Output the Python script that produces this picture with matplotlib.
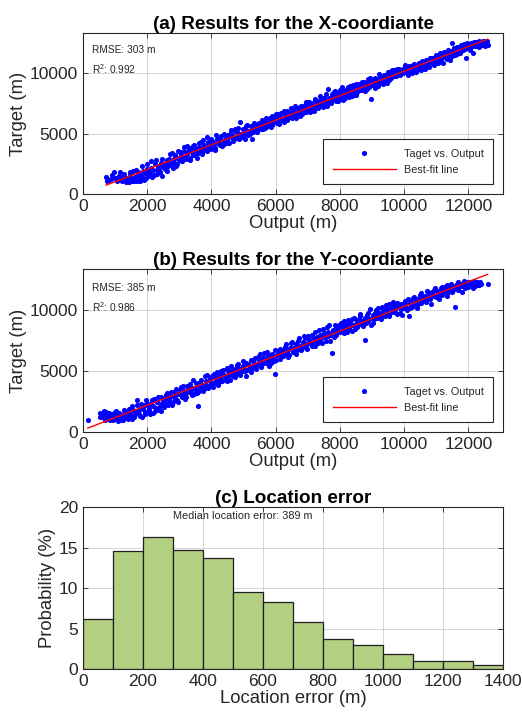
import matplotlib
matplotlib.use("Agg")
import matplotlib.pyplot as plt
import numpy as np

plt.rcParams['font.family'] = ['Liberation Sans', 'DejaVu Sans']
plt.rcParams['mathtext.fontset'] = 'custom'
plt.rcParams['mathtext.rm'] = 'Liberation Sans'

# X-coordinate: (network output, target) pairs in metres
x_pts = [
    (720, 1400), (810, 1150), (880, 1250), (950, 1850), (1010, 1300), (1060, 1100), (1120, 1500), (1180, 1200),
    (1230, 1050), (1290, 1700), (1340, 1350), (1380, 1150), (1420, 1000), (1470, 1600), (1510, 1250), (1550, 1900),
    (1590, 1100), (1630, 1450), (1680, 1050), (1720, 1800), (1760, 1300), (1800, 1600), (1850, 2300), (1890, 1200),
    (1930, 1750), (1980, 2100), (2020, 1500), (2060, 1850), (2110, 2700), (2150, 1400), (2190, 2000), (2240, 2450),
    (2290, 1650), (2330, 2200), (2380, 1950), (2420, 2600), (2470, 1500), (2510, 2350), (2560, 2050), (2610, 2800),
    (2650, 2300), (2700, 3300), (2740, 2600), (2790, 2150), (2840, 2900), (2880, 3200), (2930, 2500), (2980, 2850),
    (3020, 3500), (3070, 2700), (3110, 3100), (3160, 3900), (3200, 2900), (3250, 3300), (3300, 3650), (3340, 3000),
    (3390, 3450), (3430, 4000), (3480, 3200), (3530, 3700), (3570, 3400), (3620, 4200), (3660, 3800), (3710, 3300),
    (3750, 4500), (3800, 3900), (3850, 3550), (3890, 4300), (3940, 4000), (3980, 3700), (4030, 4400), (4080, 4150),
    (4120, 3850), (4170, 4600), (4210, 4300), (4260, 4050), (4300, 4800), (4350, 4400), (4400, 4150), (4440, 4650),
    (4490, 4500), (4530, 4200), (4580, 5000), (4620, 4700), (4670, 4400), (4720, 5400), (4760, 4750), (4810, 5100),
    (4850, 4550), (4900, 6000), (4950, 5000), (4990, 4700), (5040, 5300), (5080, 5600), (5130, 4900), (5170, 5250),
    (5220, 5650), (5270, 4600), (5310, 5400), (5360, 5800), (5400, 5200), (5450, 5550), (5490, 5900), (5540, 5350),
    (5590, 5700), (5630, 6050), (5680, 5500), (5720, 5850), (5770, 5600), (5810, 6300), (5860, 5950), (5900, 5700),
    (5950, 6200), (6000, 6600), (6040, 5900), (6090, 6350), (6130, 6100), (6180, 6700), (6220, 6250), (6270, 5950),
    (6320, 6600), (6360, 6900), (6410, 6400), (6450, 6750), (6500, 6300), (6540, 7000), (6590, 6650), (6640, 6300),
    (6680, 7100), (6730, 6800), (6770, 7250), (6820, 6600), (6860, 7000), (6910, 7400), (6960, 6800), (7000, 7200),
    (7050, 7600), (7090, 7000), (7140, 7350), (7180, 6900), (7230, 7700), (7280, 7400), (7320, 7100), (7370, 7800),
    (7410, 7500), (7460, 7200), (7500, 8000), (7550, 7650), (7600, 7300), (7640, 8700), (7690, 7900), (7730, 7550),
    (7780, 8100), (7820, 8450), (7870, 7700), (7920, 8200), (7960, 7900), (8010, 8600), (8050, 8100), (8100, 7800),
    (8140, 8500), (8190, 8300), (8240, 8900), (8280, 8050), (8330, 8600), (8370, 8350), (8420, 9000), (8460, 8500),
    (8510, 8200), (8560, 8800), (8600, 9100), (8650, 8650), (8690, 9300), (8740, 8900), (8790, 8550), (8830, 9200),
    (8880, 9500), (8920, 8900), (8970, 7900), (9010, 9300), (9060, 9000), (9100, 9600), (9150, 9250), (9190, 8950),
    (9240, 9700), (9290, 9400), (9330, 9100), (9380, 9900), (9420, 9500), (9470, 9200), (9510, 9800), (9560, 10100),
    (9600, 9600), (9650, 9950), (9700, 10300), (9740, 9800), (9790, 10150), (9830, 10400), (9880, 9900), (9920, 10250),
    (9970, 10000), (10020, 10500), (10060, 10200), (10110, 9900), (10150, 10600), (10200, 10300), (10240, 10050),
    (10290, 10700), (10340, 10400), (10380, 10150), (10430, 10800), (10470, 10500), (10520, 10300), (10560, 11000),
    (10610, 10700), (10660, 10400), (10700, 11100), (10750, 10800), (10790, 10600), (10840, 11300), (10880, 10950),
    (10930, 10700), (10980, 11400), (11020, 11100), (11070, 10850), (11110, 11500), (11160, 11200), (11200, 10900),
    (11250, 11600), (11300, 11300), (11340, 11700), (11390, 11400), (11430, 11150), (11480, 12500), (11520, 11800),
    (11570, 11500), (11620, 11900), (11660, 11600), (11710, 12100), (11750, 11800), (11800, 12200), (11840, 11900),
    (11890, 12300), (11940, 11300), (11980, 12100), (12030, 12450), (12070, 12200), (12120, 12550), (12160, 11700),
    (12210, 12300), (12250, 12600), (12300, 12400), (12340, 12200), (12390, 12600), (12430, 12450), (12480, 12650),
    (12520, 12300), (12560, 12500),
    (760, 1050), (900, 1550), (1050, 1350), (1150, 1800), (1250, 1400), (1330, 1000), (1400, 1300), (1450, 1850),
    (1530, 1050), (1600, 1350), (1650, 2000), (1700, 1550), (1780, 1100), (1830, 1450), (1870, 1900), (1950, 1350),
    (2000, 2450), (2080, 1700), (2130, 2150), (2200, 1600), (2260, 2800), (2310, 1950), (2360, 2350), (2400, 1800),
    (2450, 2900), (2500, 2200), (2580, 2550), (2630, 1900), (2680, 2900), (2720, 2400), (2770, 3400), (2820, 2600),
    (2860, 3050), (2910, 2300), (2960, 3600), (3000, 2950), (3050, 3250), (3090, 2700), (3140, 3600), (3180, 3050),
    (3230, 4000), (3270, 3500), (3320, 2850), (3360, 3800), (3410, 3250), (3460, 4100), (3500, 3550), (3550, 3000),
    (3600, 3900), (3640, 3550), (3690, 4350), (3730, 3600), (3780, 4100), (3820, 3750), (3870, 4700), (3910, 4150),
    (3960, 3800), (4000, 4600), (4050, 4300), (4100, 3650), (4150, 4900), (4190, 4450), (4240, 4150), (4280, 4650),
    (4330, 4000), (4380, 5000), (4420, 4500), (4470, 4350), (4510, 4900), (4560, 4250), (4600, 5300), (4650, 4900),
    (4700, 4550), (4740, 5200), (4790, 4650), (4830, 5500), (4880, 5000), (4920, 4800), (4970, 5400), (5010, 5000),
    (5060, 4600), (5110, 5700), (5150, 5200), (5200, 5000), (5250, 5500), (5290, 5150), (5340, 5900), (5380, 5400),
    (5430, 5100), (5470, 5750), (5520, 5500), (5560, 6100), (5610, 5350), (5650, 5900), (5700, 6300), (5750, 5650),
    (5790, 6000), (5840, 5550), (5880, 6500), (5930, 5900), (5970, 6300), (6020, 6100), (6060, 6600), (6110, 5800),
    (6150, 6400), (6200, 6100), (6250, 6900), (6290, 6450), (6340, 6150), (6380, 6700), (6430, 6550), (6480, 7100),
    (6520, 6500), (6570, 6850), (6610, 7300), (6660, 6600), (6700, 6900), (6750, 6500), (6800, 7300), (6840, 6900),
    (6890, 7150), (6930, 7600), (6980, 7000), (7020, 7400), (7070, 6800), (7110, 7550), (7160, 7250), (7210, 7900),
    (7250, 7200), (7300, 7600), (7350, 7300), (7390, 8100), (7430, 7650), (7480, 7400), (7520, 7850), (7570, 8300),
    (7620, 7600), (7660, 8000), (7710, 7700), (7750, 8300), (7800, 7900), (7850, 8500), (7890, 8100), (7940, 7750),
    (7980, 8400), (8030, 8300), (8070, 8850), (8120, 8200), (8160, 8000), (8210, 8700), (8260, 8400), (8300, 8950),
    (8350, 8500), (8390, 8100), (8440, 8750), (8490, 9100), (8530, 8450), (8580, 8900), (8620, 8600), (8670, 9050),
    (8720, 8700), (8760, 9300), (8810, 8900), (8850, 8700), (8900, 9250), (8950, 9600), (8990, 9050), (9040, 9400),
    (9080, 8800), (9130, 9550), (9170, 9300), (9220, 9950), (9260, 9200), (9310, 9650), (9360, 9300), (9400, 9850),
    (9450, 9650), (9490, 10150), (9540, 9450), (9580, 9900), (9630, 10250), (9680, 9750), (9720, 10000), (9770, 10400),
    (9810, 9950), (9860, 10300), (9900, 10050), (9950, 10400), (10000, 10150), (10040, 10700), (10090, 10300),
    (10130, 10050), (10180, 10600), (10220, 10350), (10270, 10150), (10310, 10800), (10360, 10550), (10400, 10250),
    (10450, 10900), (10500, 10650), (10540, 10450), (10590, 10900), (10630, 10600), (10680, 11150), (10720, 10850),
    (10770, 10550), (10810, 11250), (10860, 10950), (10900, 11300), (10950, 11050), (11000, 11550), (11040, 11200),
    (11090, 10950), (11130, 11650), (11180, 11350), (11230, 11800), (11270, 11450), (11320, 11200), (11360, 11900),
    (11410, 11600), (11450, 11850), (11500, 11450), (11540, 12100), (11590, 11700), (11640, 12200), (11680, 11950),
    (11730, 11700), (11770, 12350), (11820, 12000), (11860, 12400), (11910, 12050), (11960, 12500), (12000, 12250),
    (12050, 11900), (12090, 12550), (12140, 12350), (12180, 12600), (12230, 12450), (12280, 12250), (12320, 12650),
    (12360, 12550), (12410, 12350), (12450, 12700), (12500, 12550), (12540, 12450), (12580, 12650), (12600, 12350),
]

# Y-coordinate: (network output, target) pairs in metres
y_pts = [
    (150, 1000), (520, 1600), (580, 1200), (640, 1700), (700, 1400), (760, 1100), (820, 1550), (880, 1250),
    (930, 1000), (990, 1650), (1040, 1300), (1090, 900), (1140, 1450), (1190, 1150), (1240, 950), (1290, 1800),
    (1340, 1250), (1390, 1050), (1440, 1600), (1490, 1350), (1540, 2100), (1590, 1200), (1640, 1700), (1690, 2600),
    (1740, 1450), (1790, 1900), (1840, 1250), (1890, 2200), (1940, 1650), (1990, 2400), (2040, 1900), (2090, 1500),
    (2140, 2600), (2190, 2150), (2240, 1750), (2290, 2500), (2340, 2900), (2390, 2100), (2440, 1700), (2490, 2700),
    (2540, 2400), (2590, 3000), (2640, 2250), (2690, 2750), (2740, 3300), (2790, 2500), (2840, 2900), (2890, 3500),
    (2940, 2650), (2990, 3150), (3040, 3700), (3090, 2900), (3140, 3400), (3190, 2700), (3240, 3800), (3290, 3250),
    (3340, 3600), (3390, 3000), (3440, 4300), (3490, 3500), (3540, 3200), (3590, 2100), (3640, 4100), (3690, 3700),
    (3740, 3350), (3790, 4600), (3840, 3900), (3890, 3600), (3940, 4400), (3990, 4050), (4040, 3700), (4090, 4800),
    (4140, 4300), (4190, 3900), (4240, 4600), (4290, 5000), (4340, 4200), (4390, 4700), (4440, 4400), (4490, 5300),
    (4540, 4700), (4590, 4300), (4640, 5100), (4690, 4850), (4740, 4500), (4790, 5500), (4840, 5000), (4890, 4650),
    (4940, 5300), (4990, 5800), (5040, 5000), (5090, 4600), (5140, 5600), (5190, 5250), (5240, 4900), (5290, 5900),
    (5340, 5500), (5390, 5150), (5440, 6200), (5490, 5700), (5540, 5350), (5590, 6000), (5640, 6500), (5690, 5700),
    (5740, 6200), (5790, 5450), (5840, 6000), (5890, 6400), (5940, 5800), (5990, 4800), (6040, 6300), (6090, 6700),
    (6140, 6000), (6190, 6550), (6240, 6250), (6290, 7000), (6340, 6500), (6390, 6150), (6440, 6900), (6490, 7300),
    (6540, 6600), (6590, 7000), (6640, 6400), (6690, 7500), (6740, 7000), (6790, 6700), (6840, 7400), (6890, 7900),
    (6940, 7100), (6990, 6800), (7040, 7600), (7090, 7300), (7140, 8000), (7190, 7500), (7240, 7100), (7290, 7800),
    (7340, 8400), (7390, 7600), (7440, 7300), (7490, 8100), (7540, 7800), (7590, 8600), (7640, 7900), (7690, 7500),
    (7740, 6500), (7790, 8300), (7840, 8800), (7890, 8000), (7940, 8500), (7990, 8200), (8040, 9000), (8090, 8400),
    (8140, 8100), (8190, 8800), (8240, 9200), (8290, 8500), (8340, 8900), (8390, 8300), (8440, 9400), (8490, 8900),
    (8540, 8600), (8590, 9300), (8640, 9700), (8690, 8900), (8740, 9200), (8790, 7600), (8840, 9600), (8890, 9100),
    (8940, 10100), (8990, 9400), (9040, 9000), (9090, 9800), (9140, 9500), (9190, 10200), (9240, 9600), (9290, 9300),
    (9340, 10000), (9390, 9700), (9440, 10400), (9490, 9800), (9540, 9500), (9590, 10300), (9640, 10700), (9690, 9900),
    (9740, 10200), (9790, 9700), (9840, 10500), (9890, 10100), (9940, 9600), (9990, 10400), (10040, 10800),
    (10090, 10000), (10140, 9500), (10190, 10600), (10240, 10300), (10290, 11000), (10340, 10500), (10390, 10200),
    (10440, 10900), (10490, 11300), (10540, 10600), (10590, 10900), (10640, 11200), (10690, 10700), (10740, 11500),
    (10790, 11000), (10840, 10500), (10890, 11300), (10940, 11700), (10990, 11100), (11040, 11400), (11090, 10900),
    (11140, 11800), (11190, 11300), (11240, 11600), (11290, 12000), (11340, 11200), (11390, 11700), (11440, 12100),
    (11490, 11500), (11540, 11900), (11590, 10300), (11640, 12200), (11690, 11700), (11740, 12000), (11790, 11500),
    (11840, 12200), (11890, 11800), (11940, 12300), (11990, 11900), (12040, 12100), (12090, 12300), (12140, 11800),
    (12190, 12000), (12240, 12200), (12290, 12050), (12350, 12300), (12600, 12200),
    (540, 1200), (610, 1500), (670, 1000), (730, 1650), (790, 1300), (850, 1000), (900, 1450), (960, 1200),
    (1020, 1700), (1070, 1100), (1120, 1600), (1170, 1350), (1220, 1000), (1270, 1500), (1320, 1700), (1370, 1200),
    (1420, 1900), (1470, 1500), (1520, 1100), (1570, 1800), (1620, 1450), (1670, 2200), (1720, 1700), (1770, 1300),
    (1820, 2300), (1870, 1850), (1920, 1500), (1970, 2650), (2020, 2100), (2070, 1750), (2120, 2300), (2170, 1600),
    (2220, 2700), (2270, 2000), (2320, 2450), (2370, 1800), (2420, 2900), (2470, 2350), (2520, 2050), (2570, 2800),
    (2620, 3200), (2670, 2500), (2720, 2950), (2770, 2200), (2820, 3300), (2870, 2800), (2920, 3100), (2970, 2450),
    (3020, 3450), (3070, 3050), (3120, 3800), (3170, 3150), (3220, 2850), (3270, 3600), (3320, 3950), (3370, 3300),
    (3420, 3650), (3470, 3100), (3520, 4000), (3570, 3700), (3620, 3400), (3670, 4300), (3720, 3900), (3770, 3500),
    (3820, 4200), (3870, 4700), (3920, 3800), (3970, 4350), (4020, 4600), (4070, 4000), (4120, 4500), (4170, 4900),
    (4220, 4100), (4270, 4450), (4320, 4750), (4370, 5100), (4420, 4550), (4470, 4200), (4520, 5000), (4570, 4800),
    (4620, 5400), (4670, 4600), (4720, 5150), (4770, 4800), (4820, 5600), (4870, 5200), (4920, 4900), (4970, 5450),
    (5020, 5200), (5070, 5700), (5120, 5100), (5170, 5500), (5220, 5900), (5270, 5300), (5320, 5700), (5370, 6100),
    (5420, 5500), (5470, 5900), (5520, 6400), (5570, 5600), (5620, 6100), (5670, 5850), (5720, 6600), (5770, 5950),
    (5820, 6350), (5870, 5700), (5920, 6250), (5970, 6700), (6020, 5900), (6070, 6450), (6120, 6850), (6170, 6300),
    (6220, 6700), (6270, 6450), (6320, 7200), (6370, 6700), (6420, 6350), (6470, 6900), (6520, 7400), (6570, 6800),
    (6620, 7200), (6670, 6700), (6720, 7700), (6770, 7100), (6820, 6900), (6870, 7300), (6920, 7700), (6970, 7200),
    (7020, 7900), (7070, 7400), (7120, 7100), (7170, 7800), (7220, 8200), (7270, 7600), (7320, 7300), (7370, 8000),
    (7420, 7700), (7470, 8500), (7520, 7900), (7570, 7500), (7620, 8200), (7670, 8800), (7720, 8000), (7770, 8400),
    (7820, 7800), (7870, 8600), (7920, 8200), (7970, 8800), (8020, 8300), (8070, 8700), (8120, 9100), (8170, 8500),
    (8220, 8200), (8270, 9000), (8320, 8700), (8370, 9300), (8420, 8800), (8470, 8500), (8520, 9100), (8570, 8800),
    (8620, 9500), (8670, 9100), (8720, 8700), (8770, 9400), (8820, 9000), (8870, 9800), (8920, 9300), (8970, 8800),
    (9020, 9600), (9070, 9300), (9120, 10000), (9170, 9400), (9220, 9800), (9270, 9500), (9320, 10300), (9370, 9900),
    (9420, 9500), (9470, 10100), (9520, 10500), (9570, 9800), (9620, 10100), (9670, 10400), (9720, 9900),
    (9770, 10600), (9820, 10300), (9870, 9800), (9920, 10500), (9970, 10200), (10020, 10600), (10070, 10300),
    (10120, 10900), (10170, 10200), (10220, 10700), (10270, 10400), (10320, 11100), (10370, 10800), (10420, 10500),
    (10470, 11000), (10520, 11400), (10570, 10800), (10620, 11100), (10670, 10800), (10720, 11600), (10770, 11200),
    (10820, 10900), (10870, 11500), (10920, 11200), (10970, 11800), (11020, 11600), (11070, 11200), (11120, 11600),
    (11170, 11900), (11220, 11400), (11270, 11800), (11320, 12100), (11370, 11500), (11420, 11900), (11470, 12200),
    (11520, 11700), (11570, 12000), (11620, 11800), (11670, 12300), (11720, 11900), (11770, 12200), (11820, 12000),
    (11870, 12400), (11920, 12100), (11970, 11900), (12020, 12300), (12070, 12000), (12120, 12200), (12170, 12400),
    (12220, 12000), (12270, 12300), (12320, 12100), (12400, 12200),
]

# Location error histogram (probability in %, 100 m bins)
err_edges = [0, 100, 200, 300, 400, 500, 600, 700, 800, 900, 1000, 1100, 1200, 1300, 1400]
err_prob = [6.15, 14.6, 16.3, 14.75, 13.65, 9.45, 8.25, 5.75, 3.65, 3.0, 1.85, 0.95, 0.95, 0.5]

rmse_txt = ["RMSE: 303 m", "RMSE: 385 m"]
r2_txt = ["0.992", "0.986"]
titles = ["(a) Results for the X-coordiante", "(b) Results for the Y-coordiante", "(c) Location error"]

dark = (0.15, 0.15, 0.15)
fig = plt.figure(figsize=(5.23, 7.12), dpi=100)


def style(ax):
    ax.tick_params(direction='in', top=True, right=True, labelsize=12.5,
                   colors=dark, length=3.5, width=0.6)
    for s in ax.spines.values():
        s.set_color(dark)
        s.set_linewidth(0.8)
    ax.grid(True, color='0.83', linewidth=0.7)
    ax.set_axisbelow(True)


positions = [[0.1587, 0.7275, 0.8031, 0.2262],
             [0.1587, 0.3933, 0.8031, 0.2289]]
ylims = [13350, 13400]
for i, pts in enumerate([x_pts, y_pts]):
    ax = fig.add_axes(positions[i])
    style(ax)
    o, t = np.array(pts, dtype=float).T
    ax.plot(o, t, 'o', color='blue', ms=3.7, mec='none', label='Taget vs. Output')
    k, b = np.polyfit(o, t, 1)
    xs = np.array([o.min(), o.max()])
    ax.plot(xs, k * xs + b, color='red', lw=1.0, label='Best-fit line')
    ax.set_xlim(0, 13080)
    ax.set_ylim(0, ylims[i])
    ax.set_xticks(range(0, 13000, 2000))
    ax.set_yticks([0, 5000, 10000])
    ax.set_xlabel('Output (m)', fontsize=13.3, color=dark, labelpad=1)
    ax.set_ylabel('Target (m)', fontsize=13.3, color=dark, labelpad=2)
    ax.set_title(titles[i], fontsize=13.6, fontweight='bold', pad=3)
    ax.text(0.021, 0.895 - 0.01 * i, rmse_txt[i], transform=ax.transAxes,
            fontsize=7.3, color=dark, va='center')
    ax.text(0.021, 0.776 - 0.007 * i, r'R$^2$: ' + r2_txt[i], transform=ax.transAxes,
            fontsize=7.3, color=dark, va='center')
    leg = ax.legend(loc='lower right', fontsize=7.8, fancybox=False, framealpha=1,
                    edgecolor=dark, handlelength=5.8, borderaxespad=0.9,
                    borderpad=0.85, labelspacing=0.6, handletextpad=0.8)
    leg.get_frame().set_linewidth(0.8)
    for txt in leg.get_texts():
        txt.set_color(dark)

ax = fig.add_axes([0.1587, 0.0604, 0.8031, 0.2275])
style(ax)
ax.bar(err_edges[:-1], err_prob, width=100, align='edge',
       color=(0.70, 0.81, 0.51), edgecolor=(0.12, 0.12, 0.12), linewidth=0.9)
ax.set_xlim(0, 1400)
ax.set_ylim(0, 20)
ax.set_xticks(range(0, 1401, 200))
ax.set_yticks([0, 5, 10, 15, 20])
ax.set_xlabel('Location error (m)', fontsize=13.3, color=dark, labelpad=1)
ax.set_ylabel('Probability (%)', fontsize=13.3, color=dark, labelpad=2)
ax.set_title(titles[2], fontsize=13.6, fontweight='bold', pad=3)
ax.text(0.214, 0.946, 'Median location error: 389 m', transform=ax.transAxes,
        fontsize=7.8, color=dark, va='center')

fig.savefig('out.png', dpi=100)
